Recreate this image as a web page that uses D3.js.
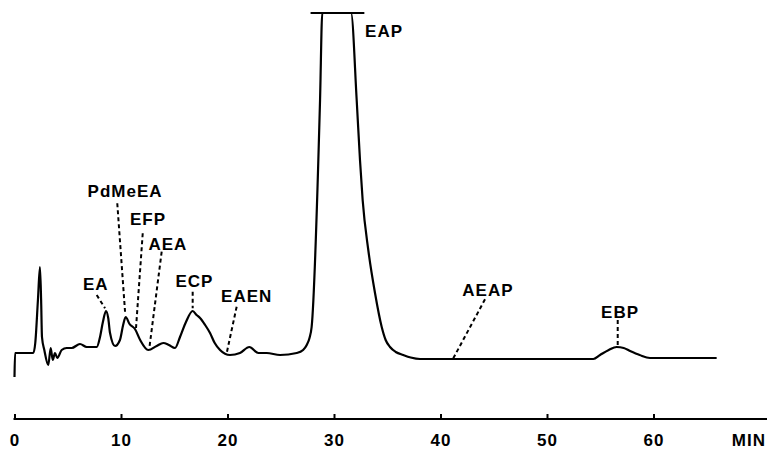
<!DOCTYPE html>
<html>
<head>
    <meta charset="utf-8">
    <title>Chromatogram</title>
    <script type="text/javascript" src="https://d3js.org/d3.v7.min.js"></script>

    <style>
        body { margin: 0; }
        .canvas {
            background-color: white;
            width: 767px;
            height: 449px;
            display: block;
        }
        .lbl, .tick text, .unit {
            font-family: "Liberation Sans", Arial, sans-serif;
            font-weight: bold;
            fill: black;
        }
        .lbl { font-size: 17px; letter-spacing: 1px; }
    </style>
</head>

<body>
    <svg class="canvas"></svg>
    <script type="text/javascript">
        // retention time (min) and detector signal
        var times = [0, 0.05, 1.77, 1.95, 2.2, 2.39, 2.5, 2.58, 2.8, 3.17, 3.4, 3.59, 3.8, 4.02, 4.43, 4.9, 5.37,
            6.15, 6.78, 7.72, 8.03, 8.3, 8.59, 8.8, 8.97, 9.44, 9.9, 10.2, 10.44, 10.8, 11.31, 11.8, 12.56, 13.35,
            13.97, 14.5, 15.07, 15.54, 16.1, 16.73, 17.1, 17.42, 17.9, 18.36, 18.8, 19.3, 20.23, 21.17, 22.05,
            22.9, 23.68, 24.93, 26.5, 27.1, 27.44, 27.7, 27.9, 28.69, 28.9, 31.6, 32.13, 32.44, 32.69, 33.22,
            33.85, 34.48, 34.85, 35.26, 35.8, 36.5, 37.2, 38.08, 45, 54.35, 54.98, 55.8, 56.54, 57.2, 57.8,
            58.7, 59.67, 65.93];
        var signal = [-17, 7, 7, 17, 60, 93, 60, 23, 10, -5, 12, 0, 7, 2, 10, 12, 12,
            16, 13, 13, 23, 38, 49, 42, 27, 14, 20, 35, 43, 36, 31, 20, 10, 14,
            17, 15, 12, 23, 38, 49, 45, 42, 35, 27, 17, 10, 5, 7, 13,
            7, 7, 5, 7, 10, 15, 22, 33, 260, 347, 347, 260, 200, 160, 110,
            67, 33, 20, 13, 8, 5, 2.5, 1, 1, 1, 5, 10, 13, 12, 9,
            5, 2, 2];

        // full-scale limit of the recorder (EAP goes off scale)
        var fullScale = 347;
        var offScaleFrom = 27.8, offScaleTo = 32.85;

        // peak names, where the label sits, and leader line ends (min, signal)
        var peakNames = ["EA", "PdMeEA", "EFP", "AEA", "ECP", "EAEN", "EAP", "AEAP", "EBP"];
        var labelTime = [7.63, 10.38, 12.54, 14.41, 16.9, 21.8, 34.7, 44.45, 56.86];
        var labelSignal = [70, 163.3, 135, 110, 73.3, 58.3, 323, 64, 41.7];
        var leaderFrom = [[7.72, 65], [9.65, 156.7], [12.04, 126.7], [13.82, 108.3], [16.73, 68.3],
            [20.86, 53.3], null, [44.18, 60.7], [56.64, 40]];
        var leaderTo = [[8.5, 51.7], [10.38, 48.3], [11.41, 32], [12.66, 11.7], [16.73, 51.7],
            [19.92, 6.7], null, [41.2, 1.7], [56.64, 13.3]];

        var tickValues = [0, 10, 20, 30, 40, 50, 60];

        var width = 767, height = 449;
        var svg = d3.select('.canvas');

        var x = d3.scaleLinear().domain([0, 70]).range([14.5, 760]);
        var y = d3.scaleLinear().domain([0, 350]).range([360, 10]);
        var axisY = 419;

        var pts = times.map(function(t, i) { return [t, signal[i]]; });

        var line = d3.line()
            .x(function(d) { return x(d[0]); })
            .y(function(d) { return y(d[1]); })
            .curve(d3.curveMonotoneX);

        svg.append('path')
            .datum(pts)
            .attr('d', line)
            .attr('fill', 'none')
            .attr('stroke', 'black')
            .attr('stroke-width', 2.2)
            .attr('stroke-linejoin', 'round');

        // off-scale bar
        svg.append('line')
            .attr('x1', x(offScaleFrom)).attr('x2', x(offScaleTo))
            .attr('y1', y(fullScale)).attr('y2', y(fullScale))
            .attr('stroke', 'black').attr('stroke-width', 2);

        // dashed leaders and peak names
        peakNames.forEach(function(name, i) {
            if (leaderFrom[i]) {
                svg.append('line')
                    .attr('x1', x(leaderFrom[i][0])).attr('y1', y(leaderFrom[i][1]))
                    .attr('x2', x(leaderTo[i][0])).attr('y2', y(leaderTo[i][1]))
                    .attr('stroke', 'black')
                    .attr('stroke-width', 2)
                    .attr('stroke-dasharray', '4,3');
            }
            svg.append('text')
                .attr('class', 'lbl')
                .attr('x', x(labelTime[i]))
                .attr('y', y(labelSignal[i]))
                .attr('text-anchor', 'middle')
                .text(name);
        });

        // time axis, ticks point up
        var axis = d3.axisBottom(x)
            .tickValues(tickValues)
            .tickFormat(d3.format('d'))
            .tickSizeInner(-5)
            .tickSizeOuter(0)
            .tickPadding(15);

        var g = svg.append('g')
            .attr('transform', 'translate(0,' + axisY + ')')
            .call(axis);
        g.select('.domain').remove();
        g.selectAll('.tick line').attr('stroke', 'black').attr('stroke-width', 2);
        g.selectAll('.tick text')
            .attr('font-size', 17)
            .attr('font-family', '"Liberation Sans", Arial, sans-serif')
            .attr('font-weight', 'bold')
            .attr('letter-spacing', 1);

        g.append('line')
            .attr('x1', x(0) - 1).attr('x2', width)
            .attr('y1', 0).attr('y2', 0)
            .attr('stroke', 'black').attr('stroke-width', 2);

        svg.append('text')
            .attr('class', 'unit')
            .attr('x', width - 1)
            .attr('y', axisY + 27)
            .attr('text-anchor', 'end')
            .attr('font-size', 17)
            .attr('letter-spacing', 1)
            .text('MIN');
    </script>
</body>
</html>
